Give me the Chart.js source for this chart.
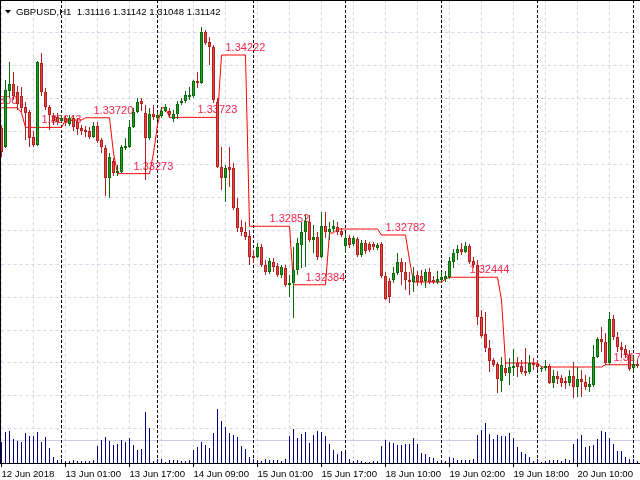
<!DOCTYPE html>
<html>
<head>
<meta charset="utf-8">
<title>GBPUSD,H1</title>
<script src="https://cdn.jsdelivr.net/npm/chart.js@4.4.1/dist/chart.umd.min.js"></script>
<style>
  html, body { margin: 0; padding: 0; background: #fff; }
  canvas { display: block; }
</style>
</head>
<body>
<canvas id="chart" width="640" height="480"></canvas>
<script>
// hourly GBPUSD bars, 12 Jun 09:00 .. 21 Jun 00:00
const opens = [
  1.33638, 1.33486, 1.33934, 1.33990, 1.33926, 1.33894, 1.33806, 1.33766, 1.33566, 1.33502,
  1.34158, 1.33926, 1.33806, 1.33734, 1.33726, 1.33694, 1.33718, 1.33670, 1.33718, 1.33686,
  1.33638, 1.33622, 1.33614, 1.33566, 1.33654, 1.33542, 1.33478, 1.33238, 1.33374, 1.33278,
  1.33286, 1.33478, 1.33486, 1.33646, 1.33766, 1.33854, 1.33758, 1.33558, 1.33750, 1.33718,
  1.33734, 1.33774, 1.33774, 1.33710, 1.33750, 1.33838, 1.33854, 1.33886, 1.33894, 1.34014,
  1.33998, 1.34406, 1.34326, 1.34286, 1.33846, 1.33326, 1.33238, 1.33326, 1.33318, 1.32998,
  1.32846, 1.32806, 1.32774, 1.32614, 1.32606, 1.32686, 1.32542, 1.32486, 1.32566, 1.32534,
  1.32462, 1.32518, 1.32382, 1.32398, 1.32502, 1.32702, 1.32806, 1.32886, 1.32742, 1.32766,
  1.32606, 1.32854, 1.32806, 1.32830, 1.32846, 1.32814, 1.32694, 1.32758, 1.32710, 1.32750,
  1.32622, 1.32718, 1.32710, 1.32710, 1.32678, 1.32710, 1.32454, 1.32414, 1.32422, 1.32478,
  1.32566, 1.32486, 1.32422, 1.32406, 1.32462, 1.32454, 1.32414, 1.32486, 1.32422, 1.32406,
  1.32422, 1.32430, 1.32446, 1.32566, 1.32638, 1.32670, 1.32646, 1.32694, 1.32574, 1.32542,
  1.32126, 1.31990, 1.31878, 1.31782, 1.31750, 1.31614, 1.31718, 1.31678, 1.31718, 1.31758,
  1.31734, 1.31694, 1.31686, 1.31758, 1.31750, 1.31710, 1.31718, 1.31734, 1.31598, 1.31654,
  1.31638, 1.31614, 1.31598, 1.31654, 1.31566, 1.31630, 1.31606, 1.31566, 1.31582, 1.31806,
  1.31950, 1.31926, 1.31758, 1.32110, 1.31966, 1.31886, 1.31870, 1.31822, 1.31718, 1.31750
];
const highs = [
  1.33662, 1.34022, 1.34166, 1.34086, 1.33974, 1.33966, 1.33846, 1.33782, 1.33614, 1.34174,
  1.34238, 1.33958, 1.33822, 1.33758, 1.33758, 1.33742, 1.33734, 1.33742, 1.33742, 1.33718,
  1.33662, 1.33654, 1.33646, 1.33686, 1.33686, 1.33558, 1.33502, 1.33438, 1.33398, 1.33342,
  1.33502, 1.33558, 1.33702, 1.33798, 1.33878, 1.33878, 1.33822, 1.33798, 1.33822, 1.33766,
  1.33806, 1.33830, 1.33798, 1.33782, 1.33854, 1.33878, 1.33934, 1.33966, 1.34022, 1.34086,
  1.34446, 1.34422, 1.34366, 1.34302, 1.33878, 1.33486, 1.33342, 1.33486, 1.33358, 1.33078,
  1.32902, 1.32886, 1.32822, 1.32662, 1.32718, 1.32710, 1.32582, 1.32598, 1.32598, 1.32558,
  1.32542, 1.32542, 1.32462, 1.32686, 1.32758, 1.32886, 1.32942, 1.32942, 1.32862, 1.32806,
  1.32966, 1.32966, 1.32886, 1.32902, 1.32886, 1.32838, 1.32798, 1.32782, 1.32774, 1.32766,
  1.32742, 1.32742, 1.32726, 1.32726, 1.32718, 1.32726, 1.32486, 1.32438, 1.32526, 1.32638,
  1.32598, 1.32566, 1.32486, 1.32526, 1.32494, 1.32502, 1.32510, 1.32518, 1.32454, 1.32494,
  1.32486, 1.32494, 1.32606, 1.32670, 1.32702, 1.32718, 1.32726, 1.32710, 1.32606, 1.32582,
  1.32182, 1.32166, 1.31942, 1.31798, 1.31766, 1.31806, 1.31758, 1.31798, 1.31870, 1.31806,
  1.31782, 1.31878, 1.31822, 1.31798, 1.31782, 1.31734, 1.31782, 1.31750, 1.31702, 1.31694,
  1.31662, 1.31646, 1.31702, 1.31766, 1.31726, 1.31702, 1.31662, 1.31646, 1.31902, 1.31966,
  1.32046, 1.31998, 1.32166, 1.32142, 1.32006, 1.31926, 1.31902, 1.31862, 1.31822, 1.31782
];
const lows = [
  1.33406, 1.33478, 1.33878, 1.33862, 1.33782, 1.33766, 1.33542, 1.33486, 1.33486, 1.33494,
  1.33894, 1.33782, 1.33622, 1.33662, 1.33662, 1.33686, 1.33654, 1.33654, 1.33614, 1.33582,
  1.33582, 1.33566, 1.33550, 1.33558, 1.33518, 1.33438, 1.33094, 1.33078, 1.33254, 1.33254,
  1.33278, 1.33462, 1.33478, 1.33638, 1.33758, 1.33774, 1.33222, 1.33542, 1.33702, 1.33702,
  1.33718, 1.33766, 1.33718, 1.33686, 1.33710, 1.33822, 1.33838, 1.33862, 1.33878, 1.33958,
  1.33990, 1.34302, 1.34142, 1.33838, 1.33318, 1.33142, 1.33046, 1.33166, 1.32982, 1.32806,
  1.32774, 1.32742, 1.32542, 1.32558, 1.32598, 1.32526, 1.32462, 1.32470, 1.32486, 1.32446,
  1.32438, 1.32366, 1.32286, 1.32118, 1.32462, 1.32518, 1.32526, 1.32726, 1.32638, 1.32582,
  1.32598, 1.32758, 1.32742, 1.32806, 1.32782, 1.32766, 1.32638, 1.32678, 1.32694, 1.32606,
  1.32606, 1.32630, 1.32646, 1.32662, 1.32662, 1.32438, 1.32262, 1.32238, 1.32398, 1.32462,
  1.32382, 1.32342, 1.32302, 1.32326, 1.32374, 1.32382, 1.32358, 1.32390, 1.32390, 1.32390,
  1.32406, 1.32406, 1.32430, 1.32518, 1.32582, 1.32622, 1.32638, 1.32550, 1.32518, 1.32062,
  1.31958, 1.31846, 1.31686, 1.31726, 1.31518, 1.31526, 1.31654, 1.31582, 1.31654, 1.31646,
  1.31670, 1.31654, 1.31670, 1.31702, 1.31702, 1.31686, 1.31694, 1.31590, 1.31558, 1.31590,
  1.31566, 1.31550, 1.31574, 1.31478, 1.31486, 1.31486, 1.31542, 1.31526, 1.31566, 1.31798,
  1.31846, 1.31742, 1.31742, 1.31942, 1.31846, 1.31798, 1.31798, 1.31694, 1.31702, 1.31718
];
const closes = [
  1.33446, 1.33942, 1.33990, 1.33894, 1.33830, 1.33798, 1.33758, 1.33558, 1.33502, 1.34166,
  1.33926, 1.33806, 1.33742, 1.33694, 1.33686, 1.33718, 1.33686, 1.33718, 1.33646, 1.33630,
  1.33614, 1.33606, 1.33566, 1.33654, 1.33534, 1.33486, 1.33238, 1.33406, 1.33278, 1.33294,
  1.33486, 1.33494, 1.33646, 1.33766, 1.33846, 1.33830, 1.33558, 1.33750, 1.33726, 1.33742,
  1.33774, 1.33806, 1.33742, 1.33750, 1.33830, 1.33854, 1.33902, 1.33902, 1.34014, 1.33998,
  1.34406, 1.34318, 1.34286, 1.33862, 1.33326, 1.33238, 1.33318, 1.33302, 1.32998, 1.32838,
  1.32806, 1.32766, 1.32606, 1.32598, 1.32686, 1.32542, 1.32486, 1.32574, 1.32526, 1.32462,
  1.32526, 1.32382, 1.32398, 1.32502, 1.32718, 1.32806, 1.32894, 1.32742, 1.32766, 1.32606,
  1.32854, 1.32806, 1.32830, 1.32854, 1.32806, 1.32782, 1.32758, 1.32702, 1.32758, 1.32622,
  1.32718, 1.32654, 1.32662, 1.32686, 1.32702, 1.32454, 1.32270, 1.32286, 1.32478, 1.32566,
  1.32486, 1.32422, 1.32406, 1.32454, 1.32406, 1.32406, 1.32486, 1.32406, 1.32406, 1.32430,
  1.32446, 1.32454, 1.32574, 1.32638, 1.32670, 1.32646, 1.32694, 1.32566, 1.32542, 1.32126,
  1.31974, 1.31878, 1.31774, 1.31742, 1.31630, 1.31742, 1.31678, 1.31726, 1.31734, 1.31726,
  1.31686, 1.31678, 1.31758, 1.31742, 1.31726, 1.31718, 1.31734, 1.31598, 1.31654, 1.31630,
  1.31598, 1.31598, 1.31654, 1.31566, 1.31630, 1.31606, 1.31566, 1.31590, 1.31806, 1.31950,
  1.31926, 1.31758, 1.32110, 1.31966, 1.31886, 1.31862, 1.31822, 1.31710, 1.31750, 1.31734
];
// tick volumes
const volumes = [
  2100, 3100, 3200, 2400, 2200, 2100, 3000, 2700, 2700, 3100,
  2100, 2600, 1500, 600, 300, 400, 200, 200, 300, 200,
  200, 200, 200, 300, 1700, 2300, 2600, 2200, 1800, 1900,
  2300, 2100, 2500, 1800, 1300, 1400, 5100, 3500, 200, 400,
  400, 100, 300, 300, 300, 200, 200, 300, 1300, 1600,
  2100, 1800, 1500, 3000, 5400, 4200, 3600, 3000, 2800, 2600,
  1700, 1400, 600, 400, 300, 200, 400, 300, 300, 300,
  200, 400, 2700, 3400, 2500, 2900, 3100, 2000, 2800, 3200,
  3100, 2700, 1900, 1300, 900, 1200, 1000, 400, 200, 300,
  200, 100, 100, 200, 200, 1700, 2300, 2100, 2000, 1800,
  1800, 1900, 1900, 2500, 1900, 1000, 900, 600, 500, 200,
  300, 200, 600, 500, 300, 300, 300, 300, 400, 2800,
  3300, 4000, 2900, 2400, 2800, 2700, 2700, 3000, 2500, 1600,
  1100, 900, 600, 200, 400, 100, 200, 300, 300, 300,
  200, 400, 300, 1900, 2400, 2800, 1600, 1700, 1800, 2400,
  3200, 3100, 2500, 1900, 1200, 1200, 600, 400, 400, 200
];
// red level line, one value per bar
const levels = [
  1.33800, 1.33800, 1.33800, 1.33800, 1.33800, 1.33758, 1.33643, 1.33643, 1.33643, 1.33643,
  1.33643, 1.33643, 1.33643, 1.33643, 1.33643, 1.33643, 1.33702, 1.33702, 1.33702, 1.33702,
  1.33702, 1.33720, 1.33720, 1.33720, 1.33720, 1.33720, 1.33720, 1.33720, 1.33438, 1.33273,
  1.33273, 1.33273, 1.33273, 1.33273, 1.33273, 1.33273, 1.33273, 1.33273, 1.33438, 1.33662,
  1.33800, 1.33800, 1.33723, 1.33723, 1.33723, 1.33723, 1.33723, 1.33723, 1.33723, 1.33723,
  1.33723, 1.33723, 1.33723, 1.33723, 1.33723, 1.34222, 1.34222, 1.34222, 1.34222, 1.34222,
  1.34222, 1.34222, 1.32852, 1.32852, 1.32852, 1.32852, 1.32852, 1.32852, 1.32852, 1.32852,
  1.32852, 1.32852, 1.32852, 1.32384, 1.32384, 1.32384, 1.32384, 1.32384, 1.32384, 1.32384,
  1.32384, 1.32384, 1.32798, 1.32798, 1.32830, 1.32830, 1.32830, 1.32830, 1.32830, 1.32830,
  1.32830, 1.32830, 1.32830, 1.32830, 1.32830, 1.32782, 1.32782, 1.32782, 1.32782, 1.32782,
  1.32782, 1.32782, 1.32582, 1.32406, 1.32406, 1.32406, 1.32406, 1.32406, 1.32406, 1.32406,
  1.32406, 1.32430, 1.32444, 1.32444, 1.32444, 1.32444, 1.32444, 1.32444, 1.32444, 1.32444,
  1.32444, 1.32444, 1.32444, 1.32444, 1.32444, 1.32262, 1.31758, 1.31758, 1.31758, 1.31758,
  1.31758, 1.31758, 1.31758, 1.31758, 1.31758, 1.31726, 1.31726, 1.31726, 1.31726, 1.31726,
  1.31726, 1.31726, 1.31726, 1.31726, 1.31726, 1.31726, 1.31726, 1.31726, 1.31726, 1.31726,
  1.31726, 1.31744, 1.31744, 1.31744, 1.31744, 1.31744, 1.31744, 1.31744, 1.31744, 1.31744
];
// level captions: bar where the text starts, and the level
const levelBars = [-6, 10, 23, 33, 49, 56, 67, 76, 96, 117, 153];
const levelValues = [1.33800, 1.33643, 1.33720, 1.33273, 1.33723, 1.34222, 1.32852, 1.32384, 1.32782, 1.32444, 1.31744];

const tickLabels = ['12 Jun 2018', '13 Jun 01:00', '13 Jun 17:00', '14 Jun 09:00', '15 Jun 01:00',
  '15 Jun 17:00', '18 Jun 10:00', '19 Jun 02:00', '19 Jun 18:00', '20 Jun 10:00'];
const daySeparators = [15, 39, 63, 86, 110, 134, 158];
const gridPrices = [1.34398, 1.34134, 1.33870, 1.33606, 1.33342, 1.33078, 1.32814,
  1.32550, 1.32286, 1.32022, 1.31758, 1.31494, 1.31230];
const bidPrice = 1.31142;
const titleText = 'GBPUSD,H1  1.31116 1.31142 1.31048 1.31142';

const priceMin = 1.30958;
const priceMax = 1.34662;
const gridColor = '#d6d6ea';
const font = '"Liberation Sans", Arial, sans-serif';

const bars = opens.map((o, i) => i);
const up = closes.map((c, i) => c >= opens[i]);
const bodyFill = up.map(u => u ? '#1f9f1f' : '#e8463e');
const bodyEdge = up.map(u => u ? '#0b680b' : '#b41f1f');

const mt4Extras = {
  id: 'mt4Extras',
  beforeDatasetsDraw(chart) {
    const ctx = chart.ctx;
    const x = chart.scales.x;
    const y = chart.scales.y;
    const area = chart.chartArea;
    ctx.save();
    ctx.lineWidth = 1;
    // bid line
    ctx.strokeStyle = '#cdcee4';
    const by = Math.round(y.getPixelForValue(bidPrice)) + 0.5;
    ctx.beginPath();
    ctx.moveTo(0, by);
    ctx.lineTo(640, by);
    ctx.stroke();
    // day separators
    ctx.strokeStyle = '#000';
    ctx.setLineDash([3, 2]);
    daySeparators.forEach(i => {
      const px = x.getPixelForValue(i);
      ctx.beginPath();
      ctx.moveTo(px, 0);
      ctx.lineTo(px, area.bottom);
      ctx.stroke();
    });
    ctx.setLineDash([]);
    // level captions
    ctx.font = '11px ' + font;
    ctx.fillStyle = '#f2264a';
    ctx.textAlign = 'left';
    ctx.textBaseline = 'alphabetic';
    levelBars.forEach((b, k) => {
      ctx.fillText(levelValues[k].toFixed(5), x.getPixelForValue(b), y.getPixelForValue(levelValues[k]) - 4);
    });
    ctx.restore();
  },
  afterDraw(chart) {
    const ctx = chart.ctx;
    const bottom = chart.chartArea.bottom;
    ctx.save();
    ctx.strokeStyle = '#000';
    ctx.lineWidth = 1;
    ctx.beginPath();
    ctx.moveTo(0.5, 0);
    ctx.lineTo(0.5, bottom + 0.5);
    ctx.moveTo(0, 0.5);
    ctx.lineTo(640, 0.5);
    ctx.moveTo(0, bottom + 0.5);
    ctx.lineTo(640, bottom + 0.5);
    ctx.stroke();
    // title
    ctx.fillStyle = '#000';
    ctx.beginPath();
    ctx.moveTo(5, 10);
    ctx.lineTo(11, 10);
    ctx.lineTo(8, 13.5);
    ctx.closePath();
    ctx.fill();
    ctx.font = '9.6px ' + font;
    ctx.textBaseline = 'alphabetic';
    ctx.fillText(titleText, 16, 15);
    ctx.restore();
  }
};

// with grouped:false Chart.js sizes bars from the category width, so
// full category/bar percentages plus maxBarThickness give the pixel widths
const barCommon = {
  grouped: false,
  categoryPercentage: 1,
  barPercentage: 1,
  inflateAmount: 0,
  clip: false
};

const config = {
  type: 'bar',
  data: {
    labels: bars,
    datasets: [
      Object.assign({
        label: 'Body',
        data: opens.map((o, i) => [o, closes[i]]),
        backgroundColor: bodyFill,
        borderColor: bodyEdge,
        borderWidth: 1,
        borderSkipped: false,
        maxBarThickness: 3,
        minBarLength: 1,
        order: 0
      }, barCommon),
      Object.assign({
        label: 'Wick',
        data: lows.map((l, i) => [l, highs[i]]),
        backgroundColor: bodyEdge,
        borderWidth: 0,
        maxBarThickness: 1,
        order: 1
      }, barCommon),
      {
        type: 'line',
        label: 'Level',
        data: levels,
        borderColor: '#ff0000',
        borderWidth: 1,
        pointRadius: 0,
        tension: 0,
        order: 2
      },
      Object.assign({
        label: 'Volume',
        data: volumes,
        yAxisID: 'yv',
        backgroundColor: '#000080',
        borderWidth: 0,
        maxBarThickness: 1,
        order: 3
      }, barCommon)
    ]
  },
  options: {
    responsive: false,
    animation: false,
    devicePixelRatio: 1,
    events: [],
    layout: {
      autoPadding: false,
      padding: { left: 1.5, right: 2.5, top: 0, bottom: 0 }
    },
    plugins: {
      legend: { display: false },
      tooltip: { enabled: false }
    },
    scales: {
      x: {
        type: 'category',
        offset: false,
        grid: {
          offset: false,
          color: c => c.index % 8 === 0 ? gridColor : 'rgba(0,0,0,0)',
          tickColor: c => c.index % 16 === 0 ? '#000' : 'rgba(0,0,0,0)',
          tickLength: 4,
          lineWidth: 1
        },
        border: { display: false, dash: [3, 3] },
        ticks: {
          autoSkip: false,
          maxRotation: 0,
          minRotation: 0,
          align: 'start',
          padding: 2,
          color: '#000',
          font: { family: font, size: 9.6 },
          callback: (v, i) => i % 16 === 0 ? tickLabels[i / 16] : ''
        },
        // fixed axis height and no label overhang, so bar centres land on half pixels
        afterFit: s => {
          s.height = 17;
          s.paddingLeft = 0;
          s.paddingRight = 0;
        }
      },
      y: {
        position: 'right',
        min: priceMin,
        max: priceMax,
        afterBuildTicks: a => { a.ticks = gridPrices.map(v => ({ value: v })); },
        afterFit: s => {
          s.width = 0;
          s.paddingTop = 0;
          s.paddingBottom = 0;
        },
        grid: { color: gridColor, drawTicks: false, lineWidth: 1 },
        border: { display: false, dash: [3, 3] },
        ticks: { display: false }
      },
      yv: {
        display: false,
        min: 0,
        max: 46300
      }
    }
  },
  plugins: [mt4Extras]
};

new Chart(document.getElementById('chart'), config);
</script>
</body>
</html>
